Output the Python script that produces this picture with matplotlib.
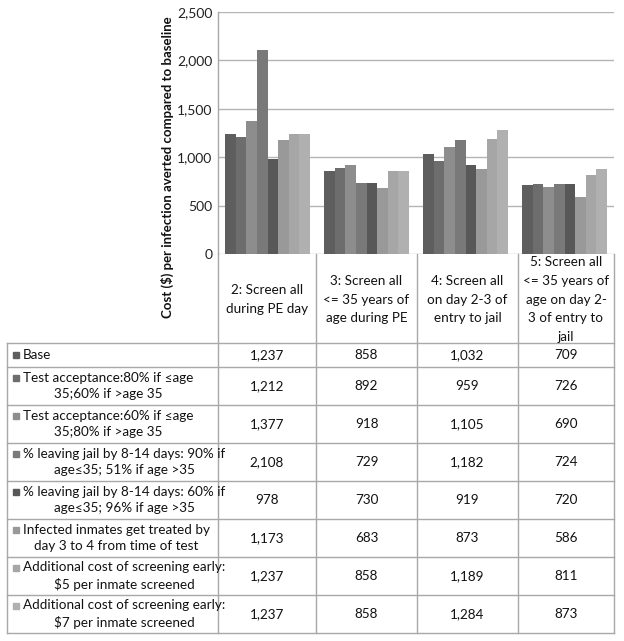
import matplotlib
matplotlib.use("Agg")
import matplotlib.pyplot as plt
from matplotlib.patches import Rectangle
from matplotlib.lines import Line2D
import numpy as np

plt.rcParams['font.family'] = ['Lato', 'DejaVu Sans']

categories = ["2: Screen all\nduring PE day",
              "3: Screen all\n<= 35 years of\nage during PE",
              "4: Screen all\non day 2-3 of\nentry to jail",
              "5: Screen all\n<= 35 years of\nage on day 2-\n3 of entry to\njail"]

series_names = ["Base",
                "Test acceptance:80% if \u2264age\n35;60% if >age 35",
                "Test acceptance:60% if \u2264age\n35;80% if >age 35",
                "% leaving jail by 8-14 days: 90% if\nage\u226435; 51% if age >35",
                "% leaving jail by 8-14 days: 60% if\nage\u226435; 96% if age >35",
                "Infected inmates get treated by\nday 3 to 4 from time of test",
                "Additional cost of screening early:\n$5 per inmate screened",
                "Additional cost of screening early:\n$7 per inmate screened"]

base = [1237, 858, 1032, 709]
test_80_60 = [1212, 892, 959, 726]
test_60_80 = [1377, 918, 1105, 690]
leave_90_51 = [2108, 729, 1182, 724]
leave_60_96 = [978, 730, 919, 720]
treated_3_4 = [1173, 683, 873, 586]
cost_5 = [1237, 858, 1189, 811]
cost_7 = [1237, 858, 1284, 873]
series_values = [base, test_80_60, test_60_80, leave_90_51, leave_60_96,
                 treated_3_4, cost_5, cost_7]

colors = ["#5e5e5e", "#6d6d6d", "#8d8d8d", "#797979", "#585858",
          "#999999", "#a6a6a6", "#b0b0b0"]

y_ticks = [0, 500, 1000, 1500, 2000, 2500]
y_tick_labels = ["0", "500", "1,000", "1,500", "2,000", "2,500"]

W, H = 624, 641
fig = plt.figure(figsize=(W / 100, H / 100), dpi=100)

def fx(px):
    return px / W

def fy(py):
    return 1 - py / H

ax_l, ax_r, ax_t, ax_b = 218, 614, 12, 254
ax = fig.add_axes([fx(ax_l), fy(ax_b), fx(ax_r) - fx(ax_l), fy(ax_t) - fy(ax_b)])

n = len(series_values)
group_w = 0.86
bw = group_w / n
x = np.arange(len(categories))
for i, (vals, c) in enumerate(zip(series_values, colors)):
    ax.bar(x - group_w / 2 + bw * (i + 0.5), vals, width=bw, color=c,
           edgecolor='none', zorder=3)

ax.set_xlim(-0.5, len(categories) - 0.5)
ax.set_ylim(0, 2500)
ax.set_yticks(y_ticks)
ax.set_yticklabels(y_tick_labels, fontsize=10, color="#222222")
ax.set_xticks([])
ax.tick_params(axis='y', length=0, pad=4)
ax.yaxis.grid(True, color="#b4b4b4", linewidth=1.0, zorder=0)
for s in ['top', 'right', 'bottom']:
    ax.spines[s].set_visible(False)
ax.spines['left'].set_color("#a8a8a8")
ax.spines['left'].set_linewidth(1.0)

fig.text(fx(167), fy(167), "Cost ($) per infection averted compared to baseline",
         rotation=90, ha='center', va='center', fontsize=9.5, fontweight='bold',
         color="#111111", parse_math=False)

# Table geometry
line_c = "#a8a8a8"
tbl_left = 7
col_edges = [218, 316, 417, 518, 614]
header_top, header_bot = 254, 343
row_edges = [343, 367] + [367 + 38 * k for k in range(1, 8)]
tbl_bot = row_edges[-1]

def hline(y, x0, x1):
    fig.add_artist(Line2D([fx(x0), fx(x1)], [fy(y), fy(y)], color=line_c, lw=1.0))

def vline(x0, y0, y1):
    fig.add_artist(Line2D([fx(x0), fx(x0)], [fy(y0), fy(y1)], color=line_c, lw=1.0))

for e in col_edges:
    vline(e, header_top, tbl_bot)
vline(tbl_left, header_bot, tbl_bot)
for r in row_edges:
    hline(r, tbl_left, col_edges[-1])

fs = 9.7
# Header
for j, cat in enumerate(categories):
    cx = (col_edges[j] + col_edges[j + 1]) / 2
    fig.text(fx(cx), fy((header_top + header_bot) / 2 + 1), cat, ha='center', va='center',
             fontsize=fs, color="#111111", linespacing=1.68, parse_math=False)

# Rows
for i, (name, vals, c) in enumerate(zip(series_names, series_values, colors)):
    y0, y1 = row_edges[i], row_edges[i + 1]
    cy = (y0 + y1) / 2
    nlines = name.count("\n") + 1
    first_y = cy - (nlines - 1) * 8.0
    fig.add_artist(Rectangle((fx(13), fy(first_y + 3)), fx(6), fy(0) - fy(6),
                             color=c, transform=fig.transFigure))
    fig.text(fx(23), fy(cy), name, ha='left', va='center', multialignment='center',
             fontsize=fs, color="#111111", linespacing=1.5, parse_math=False)
    for j, v in enumerate(vals):
        cx = (col_edges[j] + col_edges[j + 1]) / 2
        fig.text(fx(cx), fy(cy), f"{v:,}", ha='center', va='center',
                 fontsize=fs, color="#111111")

fig.savefig("out.png", dpi=100)
